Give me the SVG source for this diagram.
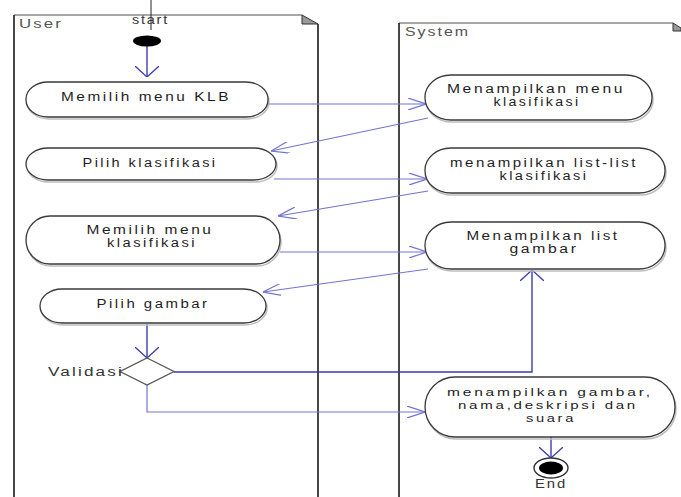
<svg xmlns="http://www.w3.org/2000/svg" width="681" height="497" viewBox="0 0 681 497">
  <style>
    .lane { fill: none; stroke: #1a1a1a; stroke-width: 1.6; }
    .laneTop { fill: none; stroke: #8a8a8a; stroke-width: 1.6; }
    .fold { fill: #9a9a9a; stroke: #333; stroke-width: 1; }
    .laneLabel { font-family: "Liberation Sans", Arial, sans-serif; font-size: 12px; letter-spacing: 1.5px; fill: #555; }
    .act { fill: #fff; stroke: #3a3a3a; stroke-width: 1.3; }
    .actShadow { fill: none; stroke: #bdbdbd; stroke-width: 1.5; }
    .label { font-family: "Liberation Sans", Arial, sans-serif; font-size: 12px; letter-spacing: 2px; fill: #1e1e1e; text-anchor: middle; }
    .label3 { font-family: "Liberation Sans", Arial, sans-serif; font-size: 11px; letter-spacing: 2px; fill: #1e1e1e; text-anchor: middle; }
    .small { font-family: "Liberation Sans", Arial, sans-serif; font-size: 12px; letter-spacing: 1.5px; fill: #333; }
    .flow { fill: none; stroke: #7474d0; stroke-width: 1.2; }
    .flowDark { fill: none; stroke: #3d3dae; stroke-width: 1.4; }
  </style>
  <defs>
    <!-- open arrowhead for the mostly horizontal flows -->
    <marker id="headH" viewBox="0 0 18 12" refX="18" refY="6" markerWidth="18" markerHeight="12" markerUnits="userSpaceOnUse" orient="auto">
      <path d="M0,0 L18,6 L0,12" fill="none" stroke="#7474d0" stroke-width="1.2"/>
    </marker>
    <!-- wide open arrowhead for the vertical flows -->
    <marker id="headV" viewBox="0 0 11 24" refX="11" refY="12" markerWidth="11" markerHeight="24" markerUnits="userSpaceOnUse" orient="auto">
      <path d="M0,0 L11,12 L0,24" fill="none" stroke="#3d3dae" stroke-width="1.3"/>
    </marker>
  </defs>

  <!-- swimlanes -->
  <g id="lane-user">
    <path class="laneTop" d="M14,15 L302,15"/>
    <path class="lane" d="M14,15 L14,497"/>
    <path class="lane" d="M318,24 L318,497"/>
    <polygon class="fold" points="302,15 318,24 302,24"/>
    <text class="laneLabel" x="19" y="28" textLength="44" lengthAdjust="spacingAndGlyphs">User</text>
  </g>
  <g id="lane-system">
    <path class="laneTop" d="M399,23 L673,23"/>
    <path class="lane" d="M399,23 L399,497"/>
    <polygon class="fold" points="673,23 681,28 681,31 673,31"/>
    <text class="laneLabel" x="405" y="36" textLength="65" lengthAdjust="spacingAndGlyphs">System</text>
  </g>

  <!-- connectors -->
  <g id="connectors">
    <path class="flowDark" d="M147,46 L147,77" marker-end="url(#headV)"/>
    <path class="flow" d="M268,104 L426,104" marker-end="url(#headH)"/>
    <path class="flow" d="M428,118 L271,151" marker-end="url(#headH)"/>
    <path class="flow" d="M274,179 L427,179" marker-end="url(#headH)" stroke-width="1.8"/>
    <path class="flow" d="M428,191 L278,216" marker-end="url(#headH)"/>
    <path class="flow" d="M280,252 L427,252" marker-end="url(#headH)"/>
    <path class="flow" d="M428,269 L263,292" marker-end="url(#headH)"/>
    <path class="flowDark" d="M147,324 L147,358" marker-end="url(#headV)"/>
    <path class="flowDark" d="M174,372 L532,372 L532,270" marker-end="url(#headV)" stroke="#5a5ac0"/>
    <path class="flow" d="M147,385 L147,412 L425,412" marker-end="url(#headH)" stroke="#5a5ac0"/>
    <path class="flowDark" d="M551,437 L551,458" marker-end="url(#headV)"/>
  </g>

  <!-- start -->
  <g id="start">
    <path d="M151,0 L151,30" stroke="#222" stroke-width="1"/>
    <text class="small" x="132" y="24" textLength="37" lengthAdjust="spacingAndGlyphs">start</text>
    <ellipse cx="147" cy="41" rx="14" ry="5.5" fill="#000"/>
  </g>

  <!-- user activities -->
  <g id="memilih-menu-klb">
    <rect class="actShadow" x="27" y="84" width="242" height="35" rx="22" ry="17"/>
    <rect class="act" x="26" y="82" width="242" height="35" rx="22" ry="17"/>
    <text class="label" x="146" y="101" textLength="170" lengthAdjust="spacingAndGlyphs">Memilih menu KLB</text>
  </g>
  <g id="pilih-klasifikasi">
    <rect class="actShadow" x="27" y="150" width="250" height="32" rx="22" ry="16"/>
    <rect class="act" x="26" y="148" width="250" height="32" rx="22" ry="16"/>
    <text class="label" x="150" y="167" textLength="135" lengthAdjust="spacingAndGlyphs">Pilih klasifikasi</text>
  </g>
  <g id="memilih-menu-klasifikasi">
    <rect class="actShadow" x="27" y="218" width="254" height="48" rx="24" ry="24"/>
    <rect class="act" x="26" y="216" width="254" height="48" rx="24" ry="24"/>
    <text class="label" x="150" y="234" textLength="127" lengthAdjust="spacingAndGlyphs">Memilih menu</text>
    <text class="label" x="152" y="247" textLength="90" lengthAdjust="spacingAndGlyphs">klasifikasi</text>
  </g>
  <g id="pilih-gambar">
    <rect class="actShadow" x="41" y="291" width="226" height="34" rx="22" ry="17"/>
    <rect class="act" x="40" y="289" width="226" height="34" rx="22" ry="17"/>
    <text class="label" x="153" y="308" textLength="113" lengthAdjust="spacingAndGlyphs">Pilih gambar</text>
  </g>
  <g id="validasi">
    <polygon points="147,358 174,371.5 147,385 120,371.5" fill="#fff" stroke="#555" stroke-width="1.3"/>
    <text class="small" x="48" y="376" textLength="76" lengthAdjust="spacingAndGlyphs">Validasi</text>
  </g>

  <!-- system activities -->
  <g id="menampilkan-menu-klasifikasi">
    <rect class="actShadow" x="426" y="77" width="227" height="45" rx="26" ry="22"/>
    <rect class="act" x="425" y="75" width="227" height="45" rx="26" ry="22"/>
    <text class="label" x="536" y="93" textLength="178" lengthAdjust="spacingAndGlyphs">Menampilkan menu</text>
    <text class="label" x="537" y="106" textLength="87" lengthAdjust="spacingAndGlyphs">klasifikasi</text>
  </g>
  <g id="menampilkan-list-klasifikasi">
    <rect class="actShadow" x="426" y="150" width="240" height="45" rx="26" ry="22"/>
    <rect class="act" x="425" y="148" width="240" height="45" rx="26" ry="22"/>
    <text class="label" x="544" y="167" textLength="188" lengthAdjust="spacingAndGlyphs">menampilkan list-list</text>
    <text class="label" x="544" y="180" textLength="89" lengthAdjust="spacingAndGlyphs">klasifikasi</text>
  </g>
  <g id="menampilkan-list-gambar">
    <rect class="actShadow" x="426" y="224" width="240" height="47" rx="26" ry="23"/>
    <rect class="act" x="425" y="222" width="240" height="47" rx="26" ry="23"/>
    <text class="label" x="543" y="240" textLength="153" lengthAdjust="spacingAndGlyphs">Menampilkan list</text>
    <text class="label" x="544" y="253" textLength="69" lengthAdjust="spacingAndGlyphs">gambar</text>
  </g>
  <g id="menampilkan-gambar">
    <rect class="actShadow" x="426" y="379" width="250" height="60" rx="30" ry="30"/>
    <rect class="act" x="425" y="377" width="250" height="60" rx="30" ry="30"/>
    <text class="label3" x="550" y="396" textLength="206" lengthAdjust="spacingAndGlyphs">menampilkan gambar,</text>
    <text class="label3" x="548" y="409" textLength="180" lengthAdjust="spacingAndGlyphs">nama,deskripsi dan</text>
    <text class="label3" x="551" y="422" textLength="50" lengthAdjust="spacingAndGlyphs">suara</text>
  </g>

  <!-- end -->
  <g id="end">
    <ellipse cx="551" cy="468" rx="17" ry="10" fill="#fff" stroke="#333" stroke-width="1.4"/>
    <ellipse cx="551" cy="468" rx="12" ry="6.5" fill="#000"/>
    <text class="small" x="551" y="488" text-anchor="middle" textLength="32" lengthAdjust="spacingAndGlyphs">End</text>
  </g>
</svg>
